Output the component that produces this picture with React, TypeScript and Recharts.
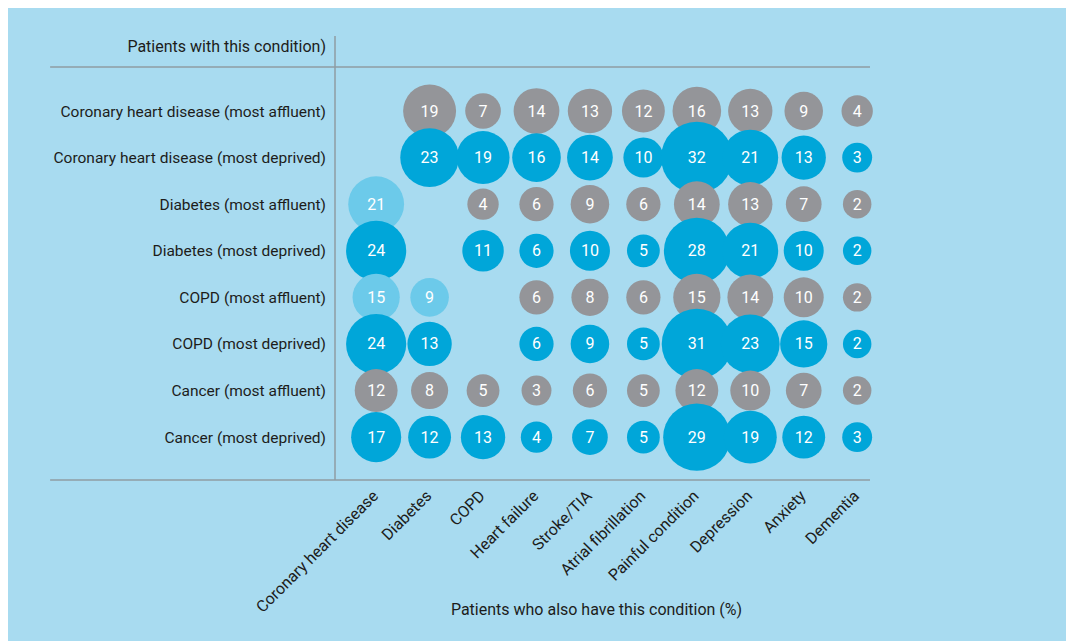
import { ScatterChart, Scatter, XAxis, YAxis, ReferenceLine } from 'recharts'

// conditions along the bottom (patients who also have this condition)
const COLUMNS = [
  'Coronary heart disease', 'Diabetes', 'COPD', 'Heart failure', 'Stroke/TIA',
  'Atrial fibrillation', 'Painful condition', 'Depression', 'Anxiety', 'Dementia',
]

// conditions down the side (patients with this condition)
const ROWS = [
  'Coronary heart disease (most affluent)',
  'Coronary heart disease (most deprived)',
  'Diabetes (most affluent)',
  'Diabetes (most deprived)',
  'COPD (most affluent)',
  'COPD (most deprived)',
  'Cancer (most affluent)',
  'Cancer (most deprived)',
]

const ROW_HEADER = 'Patients with this condition)'
const X_TITLE = 'Patients who also have this condition (%)'

// % values, one entry per column (null = same condition, no bubble)
const CHD_AFFLUENT = [null, 19, 7, 14, 13, 12, 16, 13, 9, 4]
const CHD_DEPRIVED = [null, 23, 19, 16, 14, 10, 32, 21, 13, 3]
const DIABETES_AFFLUENT = [21, null, 4, 6, 9, 6, 14, 13, 7, 2]
const DIABETES_DEPRIVED = [24, null, 11, 6, 10, 5, 28, 21, 10, 2]
const COPD_AFFLUENT = [15, 9, null, 6, 8, 6, 15, 14, 10, 2]
const COPD_DEPRIVED = [24, 13, null, 6, 9, 5, 31, 23, 15, 2]
const CANCER_AFFLUENT = [12, 8, 5, 3, 6, 5, 12, 10, 7, 2]
const CANCER_DEPRIVED = [17, 12, 13, 4, 7, 5, 29, 19, 12, 3]

// cells drawn in the lighter blue [row, column]
const LIGHT_CELLS = [[2, 0], [4, 0], [4, 1]]

const ROW_VALUES = [
  CHD_AFFLUENT, CHD_DEPRIVED, DIABETES_AFFLUENT, DIABETES_DEPRIVED,
  COPD_AFFLUENT, COPD_DEPRIVED, CANCER_AFFLUENT, CANCER_DEPRIVED,
]

const BG = '#a8dbf0'
const LINE = '#8f9ca3'
const TEXT = '#1d1d1b'
const FILLS: Record<string, string> = {
  affluent: '#949599',
  deprived: '#00a6d9',
  light: '#6ccaea',
}

type Cell = { x: number; y: number; value: number; kind: string }

const cells: Cell[] = []
ROW_VALUES.forEach((row, r) => {
  row.forEach((v, c) => {
    if (v == null) return
    const light = LIGHT_CELLS.some(([lr, lc]) => lr === r && lc === c)
    cells.push({ x: c, y: r, value: v, kind: light ? 'light' : r % 2 === 0 ? 'affluent' : 'deprived' })
  })
})

function Bubble(props: any) {
  const { cx, cy, payload } = props
  const r = 12.8 + 0.72 * payload.value
  return (
    <g>
      <circle cx={cx} cy={cy} r={r} fill={FILLS[payload.kind]} />
      <text x={cx} y={cy} dy={5.5} textAnchor="middle" fill="#fff" fontSize={16}>
        {payload.value}
      </text>
    </g>
  )
}

function RowTick({ x, y, payload }: any) {
  return (
    <text x={x - 1} y={y} dy={5.5} textAnchor="end" fill={TEXT} fontSize={15.5}>
      {ROWS[payload.value]}
    </text>
  )
}

function ColTick({ x, y, payload }: any) {
  return (
    <g transform={`translate(${x + 3},${y + 9}) rotate(-45)`}>
      <text x={0} y={0} textAnchor="end" fill={TEXT} fontSize={16}>
        {COLUMNS[payload.value]}
      </text>
    </g>
  )
}

const X_DOMAIN = [-0.77, 9.24]
const Y_DOMAIN = [-1.61, 7.92]
const LEFT_EDGE = -6.1
const HEADER_RULE = -0.945

export default function App() {
  return (
    <div
      style={{
        position: 'absolute', left: 8, top: 8, width: 1058, height: 633,
        background: BG, fontFamily: 'Roboto, sans-serif',
      }}
    >
      <ScatterChart width={1058} height={633} margin={{ top: 28, right: 196, bottom: 0, left: 0 }}>
        <XAxis
          dataKey="x"
          type="number"
          domain={X_DOMAIN}
          ticks={COLUMNS.map((_, i) => i)}
          interval={0}
          axisLine={false}
          tickLine={false}
          height={161}
          tick={<ColTick />}
          label={{ value: X_TITLE, position: 'insideBottom', offset: 26, dx: -6, fill: TEXT, fontSize: 16 }}
        />
        <YAxis
          dataKey="y"
          type="number"
          domain={Y_DOMAIN}
          reversed
          ticks={ROWS.map((_, i) => i)}
          interval={0}
          width={327}
          axisLine={{ stroke: LINE, strokeWidth: 1.5 }}
          tickLine={false}
          tick={<RowTick />}
          label={{ value: ROW_HEADER, position: 'insideTopRight', offset: 5, dx: -4, fill: TEXT, fontSize: 16 }}
        />
        <ReferenceLine
          segment={[{ x: LEFT_EDGE, y: HEADER_RULE }, { x: X_DOMAIN[1], y: HEADER_RULE }]}
          stroke={LINE}
          strokeWidth={1.5}
          ifOverflow="visible"
        />
        <ReferenceLine
          segment={[{ x: LEFT_EDGE, y: Y_DOMAIN[1] }, { x: X_DOMAIN[1], y: Y_DOMAIN[1] }]}
          stroke={LINE}
          strokeWidth={1.5}
          ifOverflow="visible"
        />
        <Scatter data={cells} shape={<Bubble />} isAnimationActive={false} />
      </ScatterChart>
    </div>
  )
}
